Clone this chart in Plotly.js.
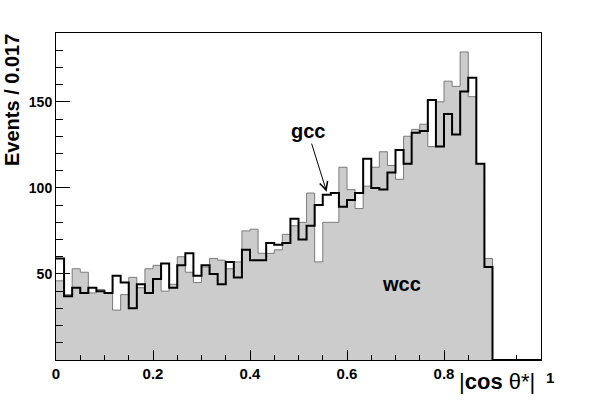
<!DOCTYPE html>
<html>
<head>
<meta charset="utf-8">
<script src="https://cdn.plot.ly/plotly-3.0.1.min.js"></script>
<style>
  body { margin: 0; background: #fff; }
  #fig { width: 606px; height: 411px; }
</style>
</head>
<body>
<div id="fig"></div>
<script>
// |cos theta*| histograms, 60 bins on [0,1]
const xMin = 0;
const xMax = 1;
const nBins = 60;

// gcc (black outline)
const gccCounts = [
  59, 37, 42, 39, 42, 40, 39, 49, 45, 30,
  44, 39, 47, 56, 42, 55, 62, 49, 55, 50,
  44, 57, 48, 64, 58, 58, 68, 67, 68, 82,
  70, 78, 90, 96, 97, 89, 93, 97, 117, 100,
  99, 109, 122, 114, 132, 133, 151, 124, 143, 131,
  156, 164, 114, 54, 0, 0, 0, 0, 0, 0
];

// wcc (grey filled)
const wccCounts = [
  46, 38, 53, 51, 39, 41, 39, 29, 38, 48,
  42, 53, 55, 40, 44, 60, 51, 45, 54, 59,
  58, 53, 57, 75, 76, 62, 62, 64, 73, 78,
  80, 97, 57, 80, 80, 112, 99, 88, 101, 112,
  121, 113, 105, 130, 134, 137, 124, 150, 162, 159,
  179, 153, 114, 59, 0, 0, 0, 0, 0, 0
];

// last label ("1") is drawn a bit to the right of its tick, as in ROOT
const xTickVals = [0, 0.2, 0.4, 0.6, 0.8];
const xTickText = ['0', '0.2', '0.4', '0.6', '0.8'];
const xEndLabel = '1';
const yTickVals = [50, 100, 150];
const yTickText = ['50', '100', '150'];

// step outline: left edges + closing right edge
function stepXY(counts) {
  const w = (xMax - xMin) / nBins;
  const xs = [], ys = [];
  for (let i = 0; i < counts.length; i++) {
    xs.push(xMin + i * w);
    ys.push(counts[i]);
  }
  xs.push(xMax);
  ys.push(counts[counts.length - 1]);
  return { xs, ys };
}

const wcc = stepXY(wccCounts);
const gcc = stepXY(gccCounts);

const bold = { family: 'Liberation Sans, Arial, sans-serif', color: '#000', weight: 'bold' };

Plotly.newPlot('fig', [
  {
    x: wcc.xs,
    y: wcc.ys,
    type: 'scatter',
    mode: 'lines',
    line: { shape: 'hv', color: '#7a7a7a', width: 1 },
    fill: 'tozeroy',
    fillcolor: '#cccccc',
    hoverinfo: 'skip'
  },
  {
    x: gcc.xs,
    y: gcc.ys,
    type: 'scatter',
    mode: 'lines',
    line: { shape: 'hv', color: '#000', width: 2 },
    hoverinfo: 'skip'
  }
], {
  width: 606,
  height: 411,
  showlegend: false,
  paper_bgcolor: '#fff',
  plot_bgcolor: '#fff',
  margin: { l: 56, r: 65, t: 33, b: 51 },
  xaxis: {
    range: [xMin, xMax],
    tickmode: 'array',
    tickvals: xTickVals,
    ticktext: xTickText,
    ticks: 'inside',
    ticklen: 10,
    tickwidth: 1,
    tickcolor: '#000',
    minor: { tickmode: 'linear', tick0: 0, dtick: 0.05, ticks: 'inside', ticklen: 5, tickcolor: '#000', showgrid: false },
    tickfont: Object.assign({ size: 15 }, bold),
    showgrid: false,
    zeroline: false,
    showline: true,
    linecolor: '#000',
    linewidth: 1,
    mirror: true
  },
  yaxis: {
    range: [0, 190],
    tickmode: 'array',
    tickvals: yTickVals,
    ticktext: yTickText,
    ticks: 'inside',
    ticklen: 14,
    tickwidth: 1,
    tickcolor: '#000',
    minor: { tickmode: 'linear', tick0: 0, dtick: 10, ticks: 'inside', ticklen: 7, tickcolor: '#000', showgrid: false },
    tickfont: Object.assign({ size: 14 }, bold),
    showgrid: false,
    zeroline: false,
    showline: true,
    linecolor: '#000',
    linewidth: 1,
    mirror: true
  },
  annotations: [
    {
      text: 'Events / 0.017',
      xref: 'paper', yref: 'paper',
      x: -0.1155, y: 1.0,
      xanchor: 'left', yanchor: 'top',
      textangle: -90,
      borderpad: 0,
      showarrow: false,
      font: Object.assign({ size: 20 }, bold)
    },
    {
      text: '|<b>cos</b> θ*|',
      xref: 'paper', yref: 'paper',
      x: 0.99, y: -0.066,
      xanchor: 'right', yanchor: 'middle',
      borderpad: 0,
      showarrow: false,
      font: { family: 'Liberation Sans, Arial, sans-serif', size: 22, color: '#000' }
    },
    {
      text: xEndLabel,
      xref: 'x', yref: 'paper',
      x: xMax, y: -0.053,
      xshift: 9,
      xanchor: 'center', yanchor: 'middle',
      borderpad: 0,
      showarrow: false,
      font: Object.assign({ size: 15 }, bold)
    },
    {
      text: 'gcc',
      xref: 'x', yref: 'y',
      x: 0.558, y: 97.8,
      axref: 'x', ayref: 'y',
      ax: 0.519, ay: 133,
      showarrow: true,
      arrowhead: 5,
      arrowsize: 1.6,
      arrowwidth: 1,
      arrowcolor: '#000',
      font: Object.assign({ size: 20 }, bold)
    },
    {
      text: 'wcc',
      xref: 'x', yref: 'y',
      x: 0.713, y: 44.3,
      showarrow: false,
      font: Object.assign({ size: 20 }, bold)
    }
  ]
}, { staticPlot: true });
</script>
</body>
</html>
